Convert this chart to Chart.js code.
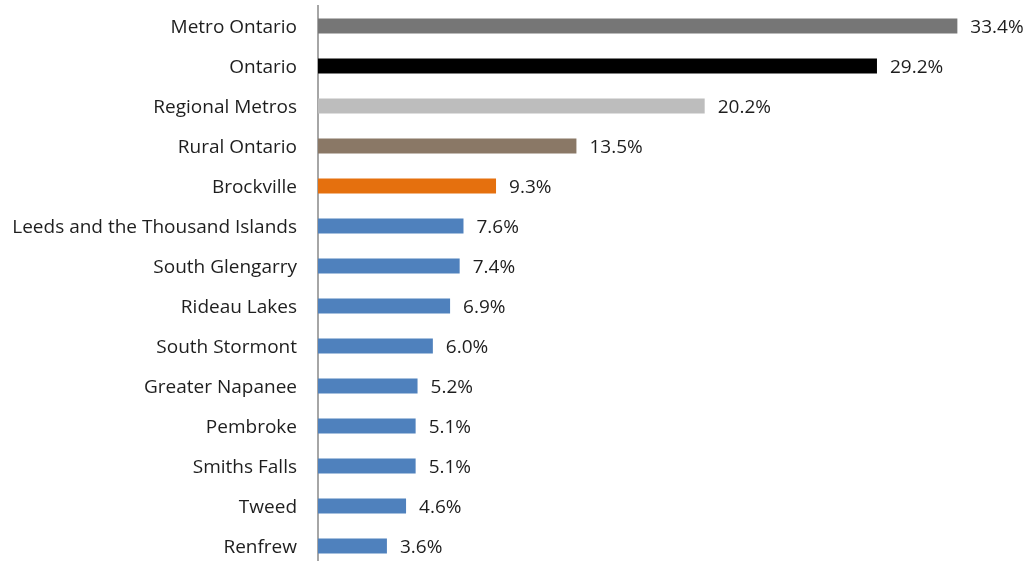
<!DOCTYPE html>
<html>
<head>
<meta charset="utf-8">
<script src="https://cdn.jsdelivr.net/npm/chart.js@4"></script>
<style>
  html, body { margin: 0; padding: 0; background: #fff; overflow: hidden; }
  #wrap { width: 1029px; height: 570px; }
</style>
</head>
<body>
<div id="wrap"><canvas id="chart"></canvas></div>
<script>
// Share of population, by place
const places = [
    'Metro Ontario', 'Ontario', 'Regional Metros', 'Rural Ontario', 'Brockville',
    'Leeds and the Thousand Islands', 'South Glengarry', 'Rideau Lakes', 'South Stormont',
    'Greater Napanee', 'Pembroke', 'Smiths Falls', 'Tweed', 'Renfrew'
];
const shares = [33.4, 29.2, 20.2, 13.5, 9.3, 7.6, 7.4, 6.9, 6.0, 5.2, 5.1, 5.1, 4.6, 3.6];
const barColors = [
    '#767676', '#000000', '#bdbdbd', '#8a7866', '#e5700e',
    '#4f81bd', '#4f81bd', '#4f81bd', '#4f81bd', '#4f81bd', '#4f81bd', '#4f81bd', '#4f81bd', '#4f81bd'
];

const FONT = '"Open Sans", Lato, sans-serif';

// value text right of each bar
const valueLabels = {
    id: 'valueLabels',
    afterDatasetsDraw(chart) {
        const ctx = chart.ctx;
        const meta = chart.getDatasetMeta(0);
        ctx.save();
        ctx.font = '19px ' + FONT;
        ctx.fillStyle = '#1e1e1e';
        ctx.textAlign = 'left';
        ctx.textBaseline = 'middle';
        meta.data.forEach((bar, i) => {
            ctx.fillText(shares[i].toFixed(1) + '%', bar.x + 13, bar.y + 2);
        });
        ctx.restore();
    }
};

new Chart(document.getElementById('chart'), {
    type: 'bar',
    data: {
        labels: places,
        datasets: [{
            data: shares,
            backgroundColor: barColors,
            categoryPercentage: 1,
            barPercentage: 0.38
        }]
    },
    options: {
        indexAxis: 'y',
        responsive: true,
        maintainAspectRatio: false,
        animation: false,
        layout: { padding: { top: 6, bottom: 4, left: 0, right: 41 } },
        plugins: { legend: { display: false }, tooltip: { enabled: false } },
        scales: {
            x: {
                min: 0, max: 35,
                display: false
            },
            y: {
                grid: { display: false, drawTicks: false },
                border: { display: true, color: '#a6a6a6', width: 2 },
                ticks: { color: '#1e1e1e', font: { family: FONT, size: 19 }, padding: 21, labelOffset: 2 },
                afterFit(scale) {
                    scale.width = 318;
                    scale.paddingTop = 0;
                    scale.paddingBottom = 0;
                }
            }
        }
    },
    plugins: [valueLabels]
});
</script>
</body>
</html>
